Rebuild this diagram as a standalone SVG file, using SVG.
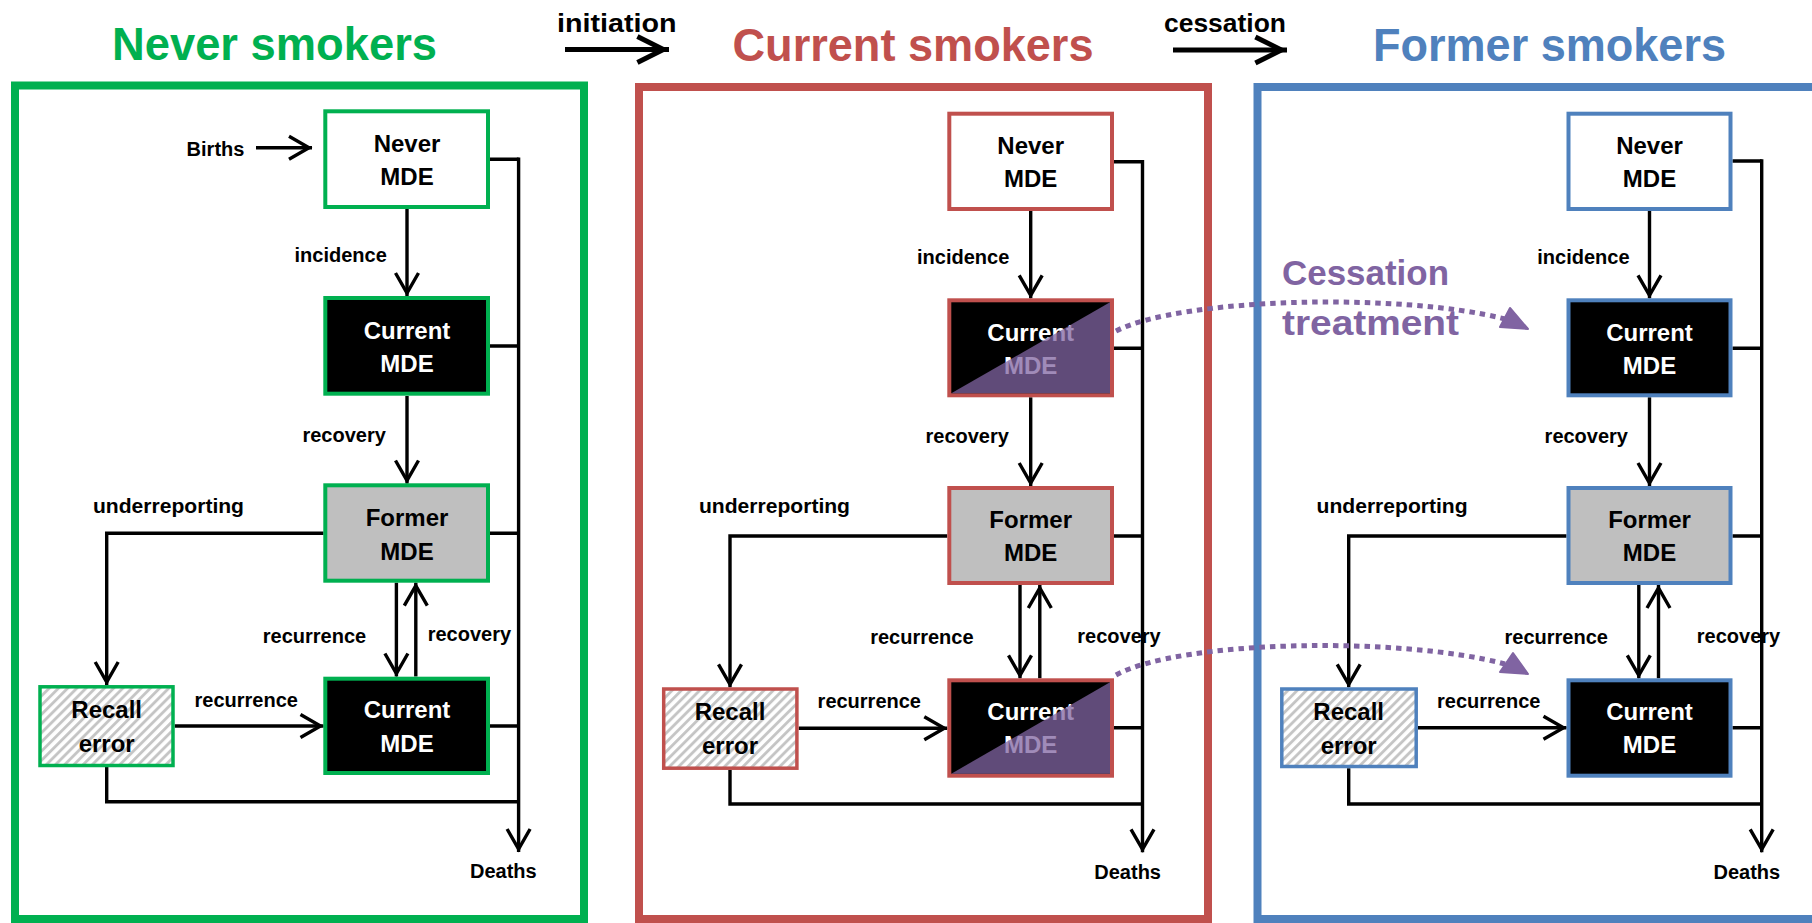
<svg xmlns="http://www.w3.org/2000/svg" width="1812" height="923" viewBox="0 0 1812 923">
<style>
text{font-family:"Liberation Sans",Arial,sans-serif;font-weight:bold;}
.lbl{font-size:20px;fill:#000;}
.top{font-size:26px;fill:#000;}
.title{font-size:46px;text-anchor:middle;}
.nl{font-size:24px;text-anchor:middle;fill:#000;}
.nw{font-size:24px;text-anchor:middle;fill:#fff;}
.conn{stroke:#000;stroke-width:3.4;fill:none;}
.thick{stroke:#000;stroke-width:5;fill:none;}
.g{stroke:#00B050;}
.r{stroke:#C0504D;}
.b{stroke:#4F81BD;}
.box{stroke-width:4;}
.rec{stroke-width:3.5;fill:url(#hatch);}
.never{fill:#fff;}
.cur{fill:#000;}
.form{fill:#BFBFBF;}
.frame{fill:none;stroke-width:8;}
.tri{fill:#8064A2;fill-opacity:0.75;}
.dot{stroke:#8064A2;stroke-width:5;fill:none;stroke-dasharray:5.5 5;}
.cess{font-size:35px;fill:#8064A2;}
</style>
<defs>
<marker id="ah" markerUnits="userSpaceOnUse" markerWidth="30" markerHeight="30" viewBox="-27 -15 30 30" refX="0" refY="0" orient="auto" overflow="visible">
<path d="M-23,-11.5 L-3,0 L-23,11.5" fill="none" stroke="#000" stroke-width="3.4"/>
</marker>
<marker id="ahT" markerUnits="userSpaceOnUse" markerWidth="40" markerHeight="40" viewBox="-35 -20 40 40" refX="0" refY="0" orient="auto" overflow="visible">
<path d="M-31.6,-13 L-5.6,0 L-31.6,13" fill="none" stroke="#000" stroke-width="5"/>
</marker>
<pattern id="hatch" patternUnits="userSpaceOnUse" width="6.5" height="6.5" patternTransform="rotate(45)">
<rect width="6.5" height="6.5" fill="#fff"/>
<line x1="1.5" y1="-1" x2="1.5" y2="7.5" stroke="#C4C4C4" stroke-width="2.8"/>
</pattern>
</defs>
<rect width="1812" height="923" fill="#fff"/>

<g id="frames">
<rect class="frame g" x="15" y="85.5" width="569" height="833.5"/>
<rect class="frame r" x="639" y="87" width="569" height="832"/>
<rect class="frame b" x="1257.5" y="87" width="580" height="832"/>
</g>

<g id="titles">
<text class="title" x="274.5" y="59.5" fill="#00B050" textLength="325" lengthAdjust="spacingAndGlyphs">Never smokers</text>
<text class="title" x="913" y="60.5" fill="#C0504D" textLength="361" lengthAdjust="spacingAndGlyphs">Current smokers</text>
<text class="title" x="1549.5" y="60.5" fill="#4F81BD" textLength="353" lengthAdjust="spacingAndGlyphs">Former smokers</text>
<text class="top" x="557" y="31.7" textLength="119.5" lengthAdjust="spacingAndGlyphs">initiation</text>
<text class="top" x="1164" y="31.7" textLength="122" lengthAdjust="spacingAndGlyphs">cessation</text>
</g>

<g id="labels">
<text class="lbl" x="186.6" y="156">Births</text>
<text class="lbl" x="294.5" y="261.7">incidence</text>
<text class="lbl" x="302.4" y="441.7">recovery</text>
<text class="lbl" x="93" y="512.7" textLength="151" lengthAdjust="spacingAndGlyphs">underreporting</text>
<text class="lbl" x="262.8" y="642.7">recurrence</text>
<text class="lbl" x="427.7" y="640.7">recovery</text>
<text class="lbl" x="194.5" y="706.7">recurrence</text>
<text class="lbl" x="470" y="877.7">Deaths</text>

<text class="lbl" x="917" y="264">incidence</text>
<text class="lbl" x="925.5" y="443.3">recovery</text>
<text class="lbl" x="699" y="512.7" textLength="151" lengthAdjust="spacingAndGlyphs">underreporting</text>
<text class="lbl" x="870.2" y="644">recurrence</text>
<text class="lbl" x="1077.3" y="642.7">recovery</text>
<text class="lbl" x="817.6" y="708.3">recurrence</text>
<text class="lbl" x="1094.3" y="879.3">Deaths</text>

<text class="lbl" x="1537.3" y="264">incidence</text>
<text class="lbl" x="1544.6" y="442.7">recovery</text>
<text class="lbl" x="1316.6" y="512.7" textLength="151" lengthAdjust="spacingAndGlyphs">underreporting</text>
<text class="lbl" x="1504.5" y="644">recurrence</text>
<text class="lbl" x="1696.8" y="642.7">recovery</text>
<text class="lbl" x="1437" y="708.3">recurrence</text>
<text class="lbl" x="1713.5" y="879.3">Deaths</text>
</g>

<g id="connectors">
<path class="thick" d="M565,49.5 H669" marker-end="url(#ahT)"/>
<path class="thick" d="M1173,50 H1287" marker-end="url(#ahT)"/>

<path class="conn" d="M256,147.7 H312" marker-end="url(#ah)"/>
<path class="conn" d="M407,209 V296" marker-end="url(#ah)"/>
<path class="conn" d="M407,396 V483.5" marker-end="url(#ah)"/>
<path class="conn" d="M323.5,533.3 H106.7 V685" marker-end="url(#ah)"/>
<path class="conn" d="M174.7,726 H323.5" marker-end="url(#ah)"/>
<path class="conn" d="M396.4,582.7 V676.5" marker-end="url(#ah)"/>
<path class="conn" d="M415.8,676.5 V582.7" marker-end="url(#ah)"/>
<path class="conn" d="M490,159.3 H518.6 M490,346 H518.6 M490,533.3 H518.6 M490,726 H518.6 M106.7,767 V801.7 H518.6"/>
<path class="conn" d="M518.6,157.6 V852" marker-end="url(#ah)"/>

<path class="conn" d="M1030.7,211 V298.3" marker-end="url(#ah)"/>
<path class="conn" d="M1030.7,397.3 V486" marker-end="url(#ah)"/>
<path class="conn" d="M947.3,536 H730 V687.3" marker-end="url(#ah)"/>
<path class="conn" d="M798.7,728.3 H947.3" marker-end="url(#ah)"/>
<path class="conn" d="M1020,585 V678.3" marker-end="url(#ah)"/>
<path class="conn" d="M1039.8,678.3 V585" marker-end="url(#ah)"/>
<path class="conn" d="M1114,161.7 H1142.5 M1114,348.3 H1142.5 M1114,536 H1142.5 M1114,727.7 H1142.5 M730,770 V804 H1142.5"/>
<path class="conn" d="M1142.5,160 V852.3" marker-end="url(#ah)"/>

<path class="conn" d="M1649.5,211 V298.3" marker-end="url(#ah)"/>
<path class="conn" d="M1649.5,397.3 V486" marker-end="url(#ah)"/>
<path class="conn" d="M1566.5,536 H1348.7 V687.3" marker-end="url(#ah)"/>
<path class="conn" d="M1418,727.7 H1566.5" marker-end="url(#ah)"/>
<path class="conn" d="M1638.8,585 V678.3" marker-end="url(#ah)"/>
<path class="conn" d="M1658.5,678.3 V585" marker-end="url(#ah)"/>
<path class="conn" d="M1732.5,161 H1761.7 M1732.5,348.3 H1761.7 M1732.5,536 H1761.7 M1732.5,727.7 H1761.7 M1348.7,768.3 V804 H1761.7"/>
<path class="conn" d="M1761.7,159.3 V852.3" marker-end="url(#ah)"/>
</g>

<g id="p1-never-mde"><rect class="box g never" x="325.3" y="111.3" width="162.7" height="95.7"/><text class="nl" x="407" y="152.3">Never</text><text class="nl" x="407" y="185">MDE</text></g>
<g id="p1-current-mde"><rect class="box g cur" x="325.3" y="298" width="162.7" height="95.7"/><text class="nw" x="407" y="338.5">Current</text><text class="nw" x="407" y="371.7">MDE</text></g>
<g id="p1-former-mde"><rect class="box g form" x="325.3" y="485.3" width="162.7" height="95.4"/><text class="nl" x="407" y="526">Former</text><text class="nl" x="407" y="560">MDE</text></g>
<g id="p1-current-mde-2"><rect class="box g cur" x="325.3" y="678.7" width="162.7" height="94.3"/><text class="nw" x="407" y="718.3">Current</text><text class="nw" x="407" y="751.7">MDE</text></g>
<g id="p1-recall-error"><rect class="rec g" x="40" y="686.8" width="133" height="78.7"/><text class="nl" x="106.7" y="718.3">Recall</text><text class="nl" x="106.7" y="751.7">error</text></g>

<g id="p2-never-mde"><rect class="box r never" x="949.3" y="113.7" width="162.7" height="95.3"/><text class="nl" x="1030.7" y="154">Never</text><text class="nl" x="1030.7" y="187.3">MDE</text></g>
<g id="p2-current-mde"><rect class="box r cur" x="949.3" y="300.3" width="162.7" height="95"/><text class="nw" x="1030.7" y="340.6">Current</text><text class="nw" x="1030.7" y="374">MDE</text><path class="tri" d="M951.3,393.3 L1110,302.3 L1110,393.3 Z"/></g>
<g id="p2-former-mde"><rect class="box r form" x="949.3" y="488" width="162.7" height="95"/><text class="nl" x="1030.7" y="527.7">Former</text><text class="nl" x="1030.7" y="561">MDE</text></g>
<g id="p2-current-mde-2"><rect class="box r cur" x="949.3" y="680.3" width="162.7" height="95.4"/><text class="nw" x="1030.7" y="720">Current</text><text class="nw" x="1030.7" y="753.3">MDE</text><path class="tri" d="M951.3,773.7 L1110,682.3 L1110,773.7 Z"/></g>
<g id="p2-recall-error"><rect class="rec r" x="663.7" y="689" width="133.2" height="79.2"/><text class="nl" x="730" y="720">Recall</text><text class="nl" x="730" y="754">error</text></g>

<g id="p3-never-mde"><rect class="box b never" x="1568.5" y="113.7" width="162" height="95.3"/><text class="nl" x="1649.5" y="154">Never</text><text class="nl" x="1649.5" y="186.7">MDE</text></g>
<g id="p3-current-mde"><rect class="box b cur" x="1568.5" y="300.3" width="162" height="95"/><text class="nw" x="1649.5" y="340.6">Current</text><text class="nw" x="1649.5" y="374">MDE</text></g>
<g id="p3-former-mde"><rect class="box b form" x="1568.5" y="488" width="162" height="95"/><text class="nl" x="1649.5" y="527.7">Former</text><text class="nl" x="1649.5" y="561">MDE</text></g>
<g id="p3-current-mde-2"><rect class="box b cur" x="1568.5" y="680.3" width="162" height="95.4"/><text class="nw" x="1649.5" y="720">Current</text><text class="nw" x="1649.5" y="753.3">MDE</text></g>
<g id="p3-recall-error"><rect class="rec b" x="1281.8" y="689" width="134.4" height="77.5"/><text class="nl" x="1348.7" y="720">Recall</text><text class="nl" x="1348.7" y="754">error</text></g>

<g id="cessation-treatment">
<text class="cess" x="1282" y="285" textLength="167" lengthAdjust="spacingAndGlyphs">Cessation</text>
<text class="cess" x="1282" y="335" textLength="177" lengthAdjust="spacingAndGlyphs">treatment</text>
<path class="dot" d="M1116,331 C1180,298 1400,292 1505,319"/>
<path d="M1510,308 L1500,327 L1528,329 Z" fill="#8064A2" stroke="#8064A2" stroke-width="2" stroke-linejoin="round"/>
<path class="dot" d="M1116,675 C1180,640 1400,636 1505,664"/>
<path d="M1513,653 L1500,672 L1528,674 Z" fill="#8064A2" stroke="#8064A2" stroke-width="2" stroke-linejoin="round"/>
</g>
</svg>
